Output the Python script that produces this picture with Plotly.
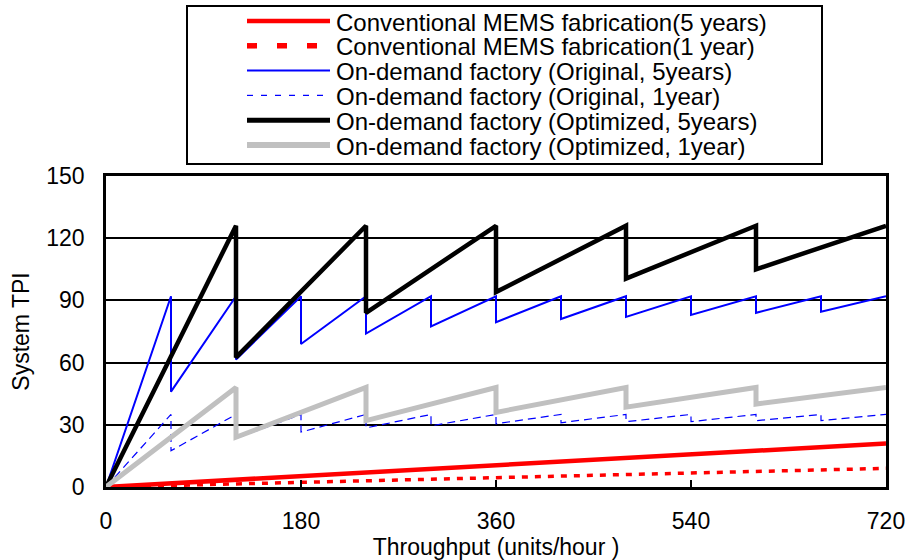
import plotly.graph_objects as go

# ---------------- data ----------------
series_names = [
    "Conventional MEMS fabrication(5 years)",
    "Conventional MEMS fabrication(1 year)",
    "On-demand factory (Original, 5years)",
    "On-demand factory (Original, 1year)",
    "On-demand factory (Optimized, 5years)",
    "On-demand factory (Optimized, 1year)",
]

conv5_x = [0, 720]
conv5_y = [0, 21]

conv1_x = [0, 720]
conv1_y = [0, 9]

orig5_x = [0, 60, 60, 120, 120, 180, 180, 240, 240, 300, 300, 360, 360,
           420, 420, 480, 480, 540, 540, 600, 600, 660, 660, 720]
orig5_y = [0, 92, 46, 92, 61.5, 92, 69, 92, 74, 92, 77.5, 92, 79.5,
           92, 81, 92, 82, 92, 83, 92, 84, 92, 84.5, 92]

orig1_x = [0, 60, 60, 120, 120, 180, 180, 240, 240, 300, 300, 360, 360,
           420, 420, 480, 480, 540, 540, 600, 600, 660, 660, 720]
orig1_y = [0, 35, 17.5, 35, 23.5, 35, 26.5, 35, 28.5, 35, 29.5, 35, 30.5,
           35, 31, 35, 31.5, 35, 31.5, 35, 32, 35, 32, 35]

opt5_x = [0, 120, 120, 240, 240, 360, 360, 480, 480, 600, 600, 720]
opt5_y = [0, 126, 62.5, 126, 84, 126, 94, 126, 100.5, 126, 105, 126]

opt1_x = [0, 120, 120, 240, 240, 360, 360, 480, 480, 600, 600, 720]
opt1_y = [0, 48, 24, 48, 32, 48, 36, 48, 38.5, 48, 40, 48]

x_ticks = [0, 180, 360, 540, 720]
y_ticks = [0, 30, 60, 90, 120, 150]

x_title = "Throughput (units/hour )"
y_title = "System TPI"

# ---------------- styles ----------------
styles = [
    dict(color="#FF0000", width=4.5, dash="solid"),
    dict(color="#FF0000", width=3.5, dash="6px,7px"),
    dict(color="#0000FF", width=2, dash="solid"),
    dict(color="#0000FF", width=1.2, dash="8px,5px"),
    dict(color="#000000", width=4.5, dash="solid"),
    dict(color="#C0C0C0", width=5, dash="solid"),
]
legend_styles = [
    dict(color="#FF0000", width=4.5, dash="solid"),
    dict(color="#FF0000", width=5.5, dash="10px,20px"),
    dict(color="#0000FF", width=2, dash="solid"),
    dict(color="#0000FF", width=1.2, dash="6px,8px"),
    dict(color="#000000", width=5, dash="solid"),
    dict(color="#C0C0C0", width=6, dash="solid"),
]

xs = [conv5_x, conv1_x, orig5_x, orig1_x, opt5_x, opt1_x]
ys = [conv5_y, conv1_y, orig5_y, orig1_y, opt5_y, opt1_y]

FONT = "Liberation Sans, Arial, sans-serif"
W, H = 906, 560
L, R, T, B = 106, 20, 176, 73
PW, PH = W - L - R, H - T - B

fig = go.Figure()
for name, x, y, st in zip(series_names, xs, ys, styles):
    fig.add_trace(go.Scatter(
        x=x, y=y, mode="lines", name=name, showlegend=False,
        line=dict(color=st["color"], width=st["width"], dash=st["dash"]),
        hoverinfo="x+y+name",
    ))


def px_x(px):
    return (px - L) / PW


def px_y(py):
    return (H - B - py) / PH


shapes = []
annotations = []
# legend box
shapes.append(dict(type="rect", xref="paper", yref="paper",
                   x0=px_x(187), x1=px_x(822), y0=px_y(164), y1=px_y(6),
                   line=dict(color="black", width=2), fillcolor="white"))
for i, (name, st) in enumerate(zip(series_names, legend_styles)):
    ry = 21 + 24.8 * i
    shapes.append(dict(type="line", xref="paper", yref="paper",
                       x0=px_x(247), x1=px_x(330), y0=px_y(ry), y1=px_y(ry),
                       line=dict(color=st["color"], width=st["width"], dash=st["dash"])))
    annotations.append(dict(xref="paper", yref="paper", x=px_x(334), y=px_y(ry + 1),
                            xanchor="left", yanchor="middle", showarrow=False,
                            text=name, font=dict(family=FONT, size=24, color="black")))

fig.update_layout(
    width=W, height=H,
    margin=dict(l=L, r=R, t=T, b=B, pad=0, autoexpand=False),
    paper_bgcolor="white", plot_bgcolor="white",
    font=dict(family=FONT, size=23, color="black"),
    shapes=shapes, annotations=annotations,
    showlegend=False,
)
fig.update_xaxes(
    range=[0, 720], tickvals=x_ticks, ticktext=[str(v) for v in x_ticks],
    showgrid=False, zeroline=False, automargin=False,
    showline=True, linecolor="black", linewidth=2.5, mirror=True,
    ticks="inside", ticklen=7, tickwidth=1.5, tickcolor="black",
    ticklabelstandoff=12,
    title=dict(text=x_title, standoff=3, font=dict(family=FONT, size=23)),
)
fig.update_yaxes(
    range=[0, 150], tickvals=y_ticks, ticktext=[str(v) for v in y_ticks],
    showgrid=True, gridcolor="black", gridwidth=1.8, zeroline=False, automargin=False,
    showline=True, linecolor="black", linewidth=2.5, mirror=True,
    ticks="", ticklabelstandoff=14,
    title=dict(text=y_title, standoff=11, font=dict(family=FONT, size=23)),
)

fig.write_html("out.html", config={"displayModeBar": False},
               post_script="document.body.style.margin='0';document.body.style.overflow='hidden';")
